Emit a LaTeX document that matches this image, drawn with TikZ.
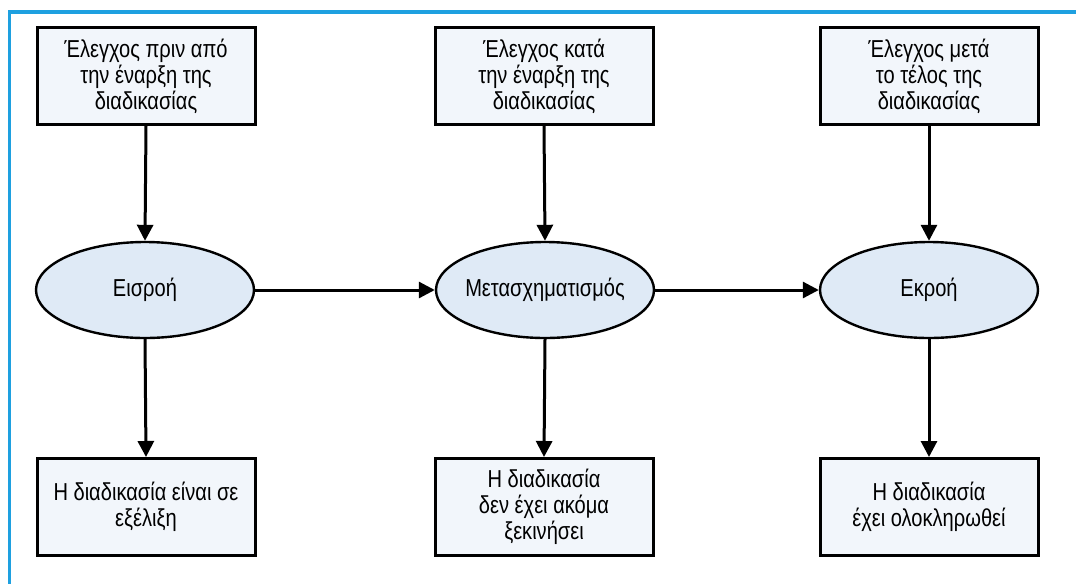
\documentclass[tikz,border=0pt]{standalone}
\usepackage{fontspec}
\setmainfont{Liberation Sans}[FakeStretch=0.82]
\usetikzlibrary{shapes.geometric,arrows.meta}
\definecolor{framecol}{HTML}{1EA0E0}
\definecolor{boxfill}{HTML}{F2F6FB}
\definecolor{ovalfill}{HTML}{DFEAF6}
\tikzset{
  stagebox/.style={draw=black, line width=3pt, fill=boxfill, rectangle,
    minimum width=218pt, minimum height=97pt, align=center,
    font=\fontsize{24.5}{26}\selectfont, inner sep=0pt},
  stageoval/.style={draw=black, line width=2.4pt, fill=ovalfill, ellipse,
    minimum width=218pt, minimum height=96pt, inner xsep=-12pt, inner ysep=0pt,
    font=\fontsize{24.5}{26}\selectfont},
  flow/.style={line width=3pt, -{Triangle[length=16pt,width=16pt]}}
}
\begin{document}
\begin{tikzpicture}[x=1pt,y=-1pt]
\useasboundingbox (0,0) rectangle (1076,584);
% frame lines along top and left
\draw[framecol, line width=3.5pt] (8,12) -- (1076,12);
\draw[framecol, line width=3.5pt] (9.5,12) -- (9.5,584);

% control checks
\node[stagebox] (t1) at (146,76) {Έλεγχος πριν από\\την έναρξη της\\διαδικασίας};
\node[stagebox] (t2) at (544,76) {Έλεγχος κατά\\την έναρξη της\\διαδικασίας};
\node[stagebox] (t3) at (929,76) {Έλεγχος μετά\\το τέλος της\\διαδικασίας};

% process stages
\node[stageoval] (e1) at (145,290) {Εισροή};
\node[stageoval] (e2) at (545,290) {Μετασχηματισμός};
\node[stageoval] (e3) at (929,290) {Εκροή};

% process states
\node[stagebox] (b1) at (146,507) {Η διαδικασία είναι σε\\εξέλιξη};
\node[stagebox] (b2) at (544,507) {Η διαδικασία\\δεν έχει ακόμα\\ξεκινήσει};
\node[stagebox] (b3) at (929,507) {Η διαδικασία\\έχει ολοκληρωθεί};

% connectors
\draw[flow] (t1.south) -- (e1.north);
\draw[flow] (t2.south) -- (e2.north);
\draw[flow] (t3.south) -- (e3.north);
\draw[flow] (e1.south) -- (b1.north);
\draw[flow] (e2.south) -- (b2.north);
\draw[flow] (e3.south) -- (b3.north);
\draw[flow] (e1.east) -- (e2.west);
\draw[flow] (e2.east) -- (e3.west);
\end{tikzpicture}
\end{document}
